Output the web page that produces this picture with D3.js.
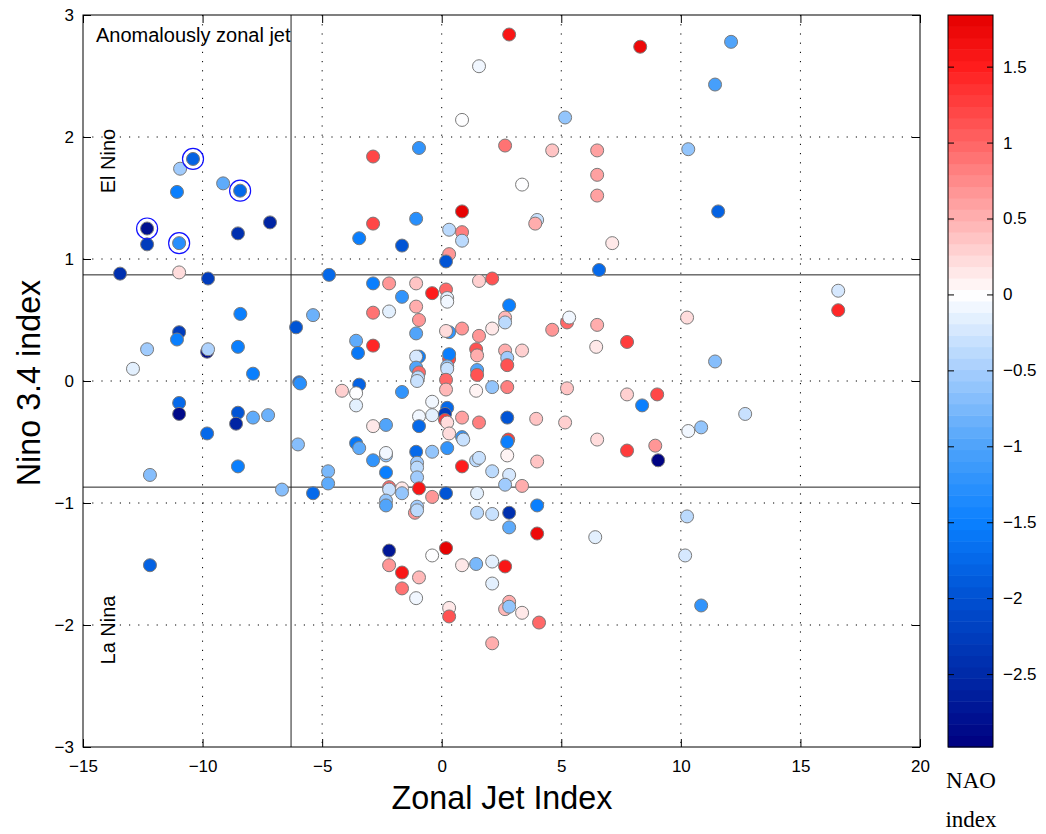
<!DOCTYPE html>
<meta charset="utf-8">
<head>
  <meta charset="utf-8">
  <title>Zonal Jet Index vs Nino 3.4</title>
</head>
<style>
body { margin: 0; background: #fff; }
.grid line { stroke: #000; stroke-width: 1; stroke-dasharray: 1.2,8; }
.axis line { stroke: #000; }
.axis path { display: none; }
</style>
<body>
<div id="chart"></div>

<script src="https://d3js.org/d3.v7.min.js"></script>
<script>

// Zonal jet index (x) for every winter
var jetIndex = [
  -10.40, -10.94, -11.07, -9.14, -8.43, -12.32, -12.32, -10.98, -8.52, -7.18,
  -3.45, -13.45, -10.98, -9.77, -4.71, -8.42, -5.38, -6.09, -10.98, -11.07,
  -12.32, -12.91, -9.81, -9.77, -8.52, -7.89, -5.96, -5.92, -3.58, -3.50,
  -3.45, -4.17, -3.58, -3.58, -10.98, -10.98, -8.52, -8.60, -7.89, -7.26,
  -9.81, -6.01, -8.52, -12.20, -4.75, -4.75, -6.68, -5.38, -3.58, -3.45,
  -12.20,
  2.82, 1.56, 0.85, 5.16, -2.87, -0.95, 2.65, 4.62, 6.50, 6.50,
  6.50, 3.36, 0.85, -1.07, -2.87, -1.66, 0.31, 0.85, 0.85, 0.31,
  0.18, 3.99, 3.91, 7.13, 8.30, 12.10, 11.43, 10.31, 11.56,
  16.58, 16.58, 10.26, 11.43, 9.01, 8.38, 12.69, 10.85, 10.31, 8.93,
  9.05, 10.26, 10.18, 10.85,
  6.58, -2.87, -2.20, -1.07, 0.18, -0.40, 1.56, 2.11, 0.23, 0.23,
  -1.66, -2.87, -2.20, -1.07, -0.95, 2.82, 2.65, 2.65, 5.24, 5.33,
  6.50, 4.62, 2.11, 1.56, 0.85, 0.31, 0.18, -1.07, -2.87, 3.36,
  2.65, 2.74, 2.74, 6.46, 7.75, 1.44, 1.48, 1.48, 1.48, 0.31,
  0.31, 0.23, 0.23, 0.18, 0.18, -0.95, -1.07, -1.07, -0.95, -0.99,
  -1.03, -1.66, 1.44, 2.11, 2.74, 5.24, 7.75, -0.40, -0.40, -0.95,
  -0.95, 0.23, 0.14, 0.14, 0.23, 0.85, 1.56, 2.74, 3.95, 5.16,
  6.50, 7.75, -2.87, -2.33, 0.31, 0.85, 0.90, 0.23, 2.78, 2.74,
  2.74, -1.07, -0.40, -2.33, -2.33, -2.87, -2.33, -1.03, -1.03, -1.03,
  0.85, 1.44, 1.56, 2.11, 2.82, 2.65, 3.36, 3.99, -0.95, -2.20,
  -2.20, -1.66, -1.66, -0.40, 0.18, 1.48, -2.33, -2.33, 3.99, -1.12,
  -1.03, -1.03,
  1.48, 2.11, 2.82, 2.82, 3.99, 6.42, -2.20, -2.20, -1.66, -1.66,
  -0.95, -1.07, -0.40, 0.18, 0.85, 1.44, 2.11, 2.65, 2.11, 0.31,
  0.31, 2.82, 2.65, 2.82, 3.36, 4.07, 2.11
]

// Nino 3.4 index (y)
var ninoIndex = [
  1.82, 1.74, 1.55, 1.62, 1.56, 1.25, 1.12, 1.13, 1.21, 1.30,
  1.17, 0.88, 0.89, 0.84, 0.87, 0.55, 0.54, 0.44, 0.40, 0.34,
  0.26, 0.10, 0.24, 0.26, 0.28, 0.06, -0.01, -0.02, 0.33, 0.23,
  -0.03, -0.08, -0.10, -0.20, -0.18, -0.27, -0.26, -0.35, -0.30, -0.28,
  -0.43, -0.52, -0.70, -0.77, -0.74, -0.84, -0.89, -0.92, -0.51, -0.55,
  -1.51,
  2.84, 2.58, 2.14, 2.16, 1.84, 1.91, 1.93, 1.89, 1.89, 1.69,
  1.52, 1.61, 1.39, 1.33, 1.29, 1.11, 1.24, 1.22, 1.15, 1.04,
  0.98, 1.32, 1.29, 1.13, 2.74, 2.78, 2.43, 1.90, 1.39,
  0.74, 0.58, 0.52, 0.16, -0.11, -0.20, -0.27, -0.38, -0.41, -0.53,
  -0.65, -1.11, -1.43, -1.84,
  0.91, 0.80, 0.80, 0.80, 0.75, 0.72, 0.82, 0.84, 0.68, 0.65,
  0.69, 0.56, 0.57, 0.61, 0.50, 0.62, 0.52, 0.48, 0.48, 0.52,
  0.46, 0.42, 0.43, 0.37, 0.43, 0.40, 0.41, 0.39, 0.29, 0.25,
  0.25, 0.19, 0.13, 0.28, 0.32, 0.26, 0.21, 0.09, 0.05, 0.18,
  0.22, 0.12, 0.10, 0.01, -0.07, 0.20, 0.20, 0.11, 0.07, 0.03,
  0.00, -0.09, -0.08, -0.05, -0.05, -0.06, -0.11, -0.17, -0.28, -0.29,
  -0.37, -0.22, -0.27, -0.32, -0.34, -0.30, -0.34, -0.30, -0.31, -0.34,
  -0.48, -0.57, -0.37, -0.36, -0.43, -0.46, -0.48, -0.55, -0.48, -0.50,
  -0.61, -0.58, -0.58, -0.61, -0.59, -0.65, -0.75, -0.67, -0.71, -0.79,
  -0.70, -0.65, -0.63, -0.74, -0.77, -0.85, -0.86, -0.66, -0.88, -0.87,
  -0.89, -0.88, -0.92, -0.95, -0.92, -0.92, -0.98, -1.02, -1.02, -1.08,
  -1.03, -1.06,
  -1.08, -1.09, -1.08, -1.20, -1.25, -1.28, -1.39, -1.51, -1.57, -1.70,
  -1.61, -1.78, -1.43, -1.37, -1.51, -1.50, -1.48, -1.52, -1.66, -1.86,
  -1.93, -1.81, -1.87, -1.85, -1.90, -1.98, -2.15
]

// NAO index (colour)
var naoIndex = [
  -1.8, -0.5, -1.5, -0.9, -1.7, -2.8, -2.3, -1.3, -2.4, -2.6,
  -1.5, -2.4, 0.2, -2.3, -1.7, -1.5, -0.8, -2.0, -2.3, -1.5,
  -0.55, -0.15, -2.9, -0.45, -1.5, -1.5, -1.8, -1.3, -0.9, -1.6,
  -1.8, 0.3, 0.0, -0.15, -1.7, -2.9, -2.0, -2.6, -0.9, -0.85,
  -1.7, -0.7, -1.5, -0.7, -0.75, -0.9, -0.7, -1.7, -1.6, -0.9,
  -1.8,
  1.6, -0.05, 0.03, -0.6, 1.2, -1.2, 0.9, 0.4, 0.6, 0.6,
  0.6, 0.03, 1.8, -1.3, 1.2, -2.0, -0.4, 0.8, -0.35, 0.7,
  -2.0, -0.3, 0.55, 0.15, 1.75, -1.0, -1.05, -0.6, -1.8,
  -0.25, 1.4, 0.25, -0.65, 1.2, -1.5, -0.3, -0.6, -0.1, 0.7,
  -2.95, -0.4, -0.2, -1.2,
  -1.7, -1.5, 0.7, 0.4, 0.95, 1.5, 0.3, 1.15, -0.15, -0.05,
  -1.2, 0.9, -0.15, 0.5, 0.65, -1.5, 0.45, -0.4, 1.0, -0.1,
  0.55, 0.65, 0.12, 0.7, 0.7, -1.2, 0.2, -1.0, 1.45, 0.3,
  0.5, -0.5, 1.1, 0.15, 1.3, 1.1, 0.55, -1.0, 1.1, 1.2,
  -1.5, -0.6, -0.3, 1.0, 0.45, -1.5, -0.2, -1.0, 1.0, -0.4,
  -0.3, -1.2, 0.05, -0.6, 0.8, 0.35, 0.3, -0.08, -0.12, -0.08,
  -1.7, -1.7, -2.3, 1.3, 0.25, 0.6, 0.8, -2.0, 0.4, 0.3,
  0.2, 1.3, 0.12, -1.0, 0.2, -1.2, -0.3, -1.2, 1.3, -1.5,
  0.05, -1.7, -0.6, -0.6, -0.05, -1.2, -1.5, -0.55, -0.4, -0.5,
  1.5, -0.35, -0.3, -0.35, -0.2, -0.5, 0.55, 0.4, 1.6, 1.0,
  -0.3, 0.15, -0.6, 0.7, -2.0, -0.15, -0.6, -1.0, -1.5, 0.7,
  -0.5, -0.4,
  -0.35, -0.3, -2.4, -0.9, 1.75, -0.12, -2.7, 0.7, 1.55, 0.9,
  0.45, -0.08, 0.02, 1.8, 0.15, -0.75, -0.15, 1.6, -0.15, 0.15,
  1.1, 0.55, 0.45, -0.6, 0.15, 1.0, 0.55
]

// winters marked with a blue ring
var circled = [0, 4, 5, 7]

var xTicks = [-15, -10, -5, 0, 5, 10, 15, 20]
var yTicks = [-3, -2, -1, 0, 1, 2, 3]
var cbTicks = [1.5, 1, 0.5, 0, -0.5, -1, -1.5, -2, -2.5]
var naoRange = [-2.98, 1.84]

// thresholds drawn as solid lines
var ninoThreshold = 0.87
var jetThreshold = -6.3

var width = 1046
var height = 834
var m = {left: 83, top: 15, right: 920, bottom: 747}
var cb = {left: 948, right: 993}
var sans = "'Liberation Sans', Arial, Helvetica, sans-serif"
var serif = "'Liberation Serif', 'Times New Roman', serif"
var fmt = d3.format('~g')

var svg = d3.select('#chart').append('svg')
    .attr('width', width)
    .attr('height', height)
    .style('font-family', sans)

var x = d3.scaleLinear().domain([-15, 20]).range([m.left, m.right])
var y = d3.scaleLinear().domain([-3, 3]).range([m.bottom, m.top])

// blue - white - red colour map, 64 steps like the matlab one
var cmap = d3.scaleLinear()
    .domain([-2.98, -2.5, -2, -1.5, -1, -0.5, 0, 0.5, 1, 1.5, 1.84])
    .range(['#000080', '#002aa8', '#0050d2', '#0a80ff', '#4ea3fa', '#a6cefd',
            '#ffffff', '#ffb0b0', '#ff6464', '#ff1c1c', '#e40000'])
    .clamp(true)
var nLevels = 64
var step = (naoRange[1] - naoRange[0]) / nLevels
function naoColor(v) {
  var k = Math.min(nLevels - 1, Math.max(0, Math.floor((v - naoRange[0]) / step)))
  return cmap(naoRange[0] + (k + 0.5) * step)
}

// grid
svg.append('g').attr('class', 'grid')
  .selectAll('line')
  .data(xTicks.slice(1, -1))
  .enter().append('line')
    .attr('x1', function (d) { return x(d) }).attr('x2', function (d) { return x(d) })
    .attr('y1', m.top).attr('y2', m.bottom)
svg.append('g').attr('class', 'grid')
  .selectAll('line')
  .data(yTicks.slice(1, -1))
  .enter().append('line')
    .attr('y1', function (d) { return y(d) }).attr('y2', function (d) { return y(d) })
    .attr('x1', m.left).attr('x2', m.right)

// threshold lines
var thr = svg.append('g').attr('stroke', '#222').attr('stroke-width', 1)
thr.append('line').attr('x1', m.left).attr('x2', m.right)
    .attr('y1', y(ninoThreshold)).attr('y2', y(ninoThreshold))
thr.append('line').attr('x1', m.left).attr('x2', m.right)
    .attr('y1', y(-ninoThreshold)).attr('y2', y(-ninoThreshold))
thr.append('line').attr('y1', m.top).attr('y2', m.bottom)
    .attr('x1', x(jetThreshold)).attr('x2', x(jetThreshold))

// axes (ticks point inward, like matlab)
var fontSize = 17
svg.append('g').attr('class', 'axis')
    .attr('transform', 'translate(0,' + m.bottom + ')')
    .call(d3.axisBottom(x).tickValues(xTicks).tickSize(-8).tickPadding(13).tickFormat(fmt))
svg.append('g').attr('class', 'axis')
    .attr('transform', 'translate(0,' + m.top + ')')
    .call(d3.axisTop(x).tickValues(xTicks).tickSize(-8).tickFormat(''))
svg.append('g').attr('class', 'axis')
    .attr('transform', 'translate(' + m.left + ',0)')
    .call(d3.axisLeft(y).tickValues(yTicks).tickSize(-8).tickPadding(9).tickFormat(fmt))
svg.append('g').attr('class', 'axis')
    .attr('transform', 'translate(' + m.right + ',0)')
    .call(d3.axisRight(y).tickValues(yTicks).tickSize(-8).tickFormat(''))

svg.append('rect')
    .attr('x', m.left).attr('y', m.top)
    .attr('width', m.right - m.left).attr('height', m.bottom - m.top)
    .attr('fill', 'none').attr('stroke', '#000')

// points
var pts = d3.range(jetIndex.length)
svg.append('g').selectAll('circle')
  .data(pts)
  .enter().append('circle')
    .attr('cx', function (i) { return x(jetIndex[i]) })
    .attr('cy', function (i) { return y(ninoIndex[i]) })
    .attr('r', 6.5)
    .attr('fill', function (i) { return naoColor(naoIndex[i]) })
    .attr('stroke', '#7a7a7a')
    .attr('stroke-width', 1)

svg.append('g').selectAll('circle')
  .data(circled)
  .enter().append('circle')
    .attr('cx', function (i) { return x(jetIndex[i]) })
    .attr('cy', function (i) { return y(ninoIndex[i]) })
    .attr('r', 10.5)
    .attr('fill', 'none')
    .attr('stroke', '#1010ff')
    .attr('stroke-width', 1.2)

// annotations
svg.append('text').attr('x', 96).attr('y', 42)
    .attr('font-size', 20).text('Anomalously zonal jet')
svg.append('text').attr('transform', 'translate(115,161) rotate(-90)')
    .attr('text-anchor', 'middle').attr('font-size', 20).text('El Nino')
svg.append('text').attr('transform', 'translate(115,630) rotate(-90)')
    .attr('text-anchor', 'middle').attr('font-size', 20).text('La Nina')

// axis titles
svg.append('text').attr('x', 502).attr('y', 809)
    .attr('text-anchor', 'middle').attr('font-size', 34)
    .attr('transform', 'translate(502,0) scale(0.95,1) translate(-502,0)')
    .text('Zonal Jet Index')
svg.append('text').attr('transform', 'translate(40,383) rotate(-90) scale(0.95,1)')
    .attr('text-anchor', 'middle').attr('font-size', 34).text('Nino 3.4 index')

// colour bar
var cy = d3.scaleLinear().domain(naoRange).range([m.bottom, m.top])
svg.append('g').selectAll('rect')
  .data(d3.range(nLevels))
  .enter().append('rect')
    .attr('x', cb.left)
    .attr('width', cb.right - cb.left)
    .attr('y', function (k) { return cy(naoRange[0] + (k + 1) * step) })
    .attr('height', function (k) { return cy(naoRange[0] + k * step) - cy(naoRange[0] + (k + 1) * step) + 0.5 })
    .attr('fill', function (k) { return cmap(naoRange[0] + (k + 0.5) * step) })

svg.append('g').attr('class', 'axis')
    .attr('transform', 'translate(' + cb.right + ',0)')
    .call(d3.axisRight(cy).tickValues(cbTicks).tickSize(-6).tickPadding(10).tickFormat(fmt))
svg.append('g').attr('class', 'axis')
    .attr('transform', 'translate(' + cb.left + ',0)')
    .call(d3.axisLeft(cy).tickValues(cbTicks).tickSize(-6).tickFormat(''))
svg.append('rect')
    .attr('x', cb.left).attr('y', m.top)
    .attr('width', cb.right - cb.left).attr('height', m.bottom - m.top)
    .attr('fill', 'none').attr('stroke', '#000')

svg.selectAll('.axis .tick text')
    .attr('font-size', fontSize).attr('fill', '#000')
    .style('font-family', sans)

svg.append('text').attr('x', 971).attr('y', 788)
    .attr('text-anchor', 'middle').attr('font-size', 23)
    .style('font-family', serif).text('NAO')
svg.append('text').attr('x', 971).attr('y', 827)
    .attr('text-anchor', 'middle').attr('font-size', 23)
    .style('font-family', serif).text('index')

</script>
</body>
